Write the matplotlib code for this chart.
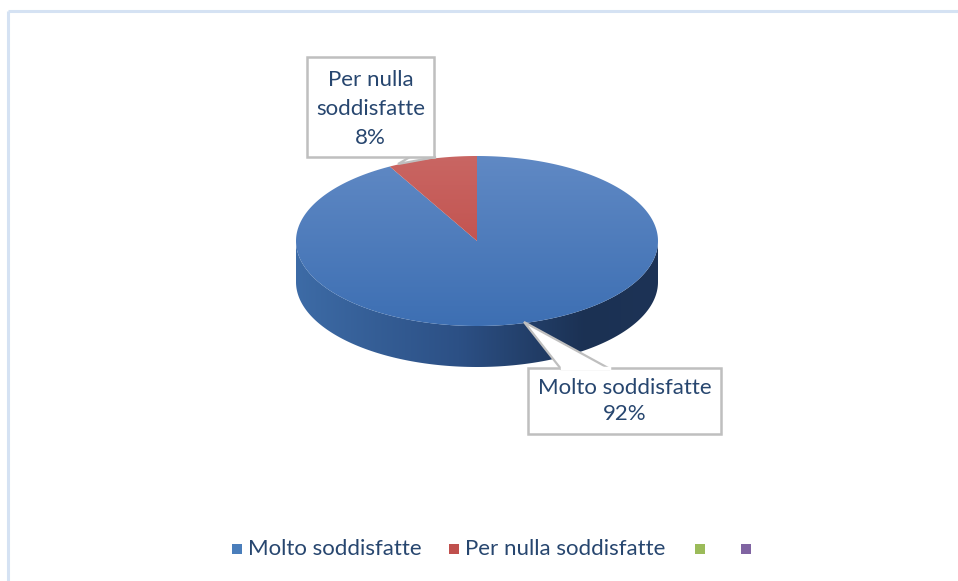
import numpy as np
import matplotlib.pyplot as plt
from matplotlib.patches import Polygon, Rectangle
from matplotlib.colors import LinearSegmentedColormap

categories = ["Molto soddisfatte", "Per nulla soddisfatte", "", ""]
values = [92, 8, 0, 0]
colors = ["#4a7ebb", "#c0504d", "#9bbb59", "#8064a2"]
top_light = ["#6089c4", "#c96663", "#aac56f", "#957bb3"]
top_dark = ["#3d6fb3", "#bd433f", "#9bbb59", "#8064a2"]
label_text = ["Molto soddisfatte\n92%", "Per nulla\nsoddisfatte\n8%"]

plt.rcParams['font.family'] = ['Lato', 'DejaVu Sans']
txt_col = "#27466f"

W, H = 958, 581
fig = plt.figure(figsize=(W / 100, H / 100), dpi=100)
ax = fig.add_axes([0, 0, 1, 1])
ax.set_xlim(0, W)
ax.set_ylim(H, 0)
ax.axis('off')

# frame (only top and left are visible in the crop)
ax.plot([8, W], [11, 11], color="#d5e2f3", lw=2.2, solid_capstyle='butt')
ax.plot([8, 8], [11, H], color="#d5e2f3", lw=2.2, solid_capstyle='butt')

cx, cy, rx, ry, depth = 477, 241, 181, 85, 41


def pt(theta, s=1.0, dy=0.0):
    return cx + s * rx * np.cos(theta), cy - s * ry * np.sin(theta) + dy


# side wall (front half), gradient left -> right
t = np.linspace(np.pi, 2 * np.pi, 200)
tx, ty = pt(t)
side = np.vstack([np.column_stack([tx, ty]),
                  np.column_stack([tx[::-1], ty[::-1] + depth])])
side_patch = Polygon(side, closed=True, fc="none", ec="none")
ax.add_patch(side_patch)
side_cmap = LinearSegmentedColormap.from_list(
    "side", [(0, "#3d6ba6"), (0.45, "#2c5085"), (0.8, "#1b3153"), (1, "#1d3356")])
grad = np.linspace(0, 1, 256).reshape(1, -1)
im = ax.imshow(grad, cmap=side_cmap, extent=[cx - rx, cx + rx, cy + ry + depth, cy - 5],
               aspect='auto', zorder=1)
im.set_clip_path(side_patch)

# top face slices, clockwise from 12 o'clock
total = sum(values)
start = np.pi / 2
for v, cl, cd in zip(values, top_light, top_dark):
    if v == 0:
        continue
    sweep = 2 * np.pi * v / total
    a = np.linspace(start, start - sweep, 300)
    ax_, ay_ = pt(a)
    poly = np.vstack([[cx, cy], np.column_stack([ax_, ay_])])
    patch = Polygon(poly, closed=True, fc="none", ec="none", zorder=2)
    ax.add_patch(patch)
    cmap = LinearSegmentedColormap.from_list("top", [cl, cd])
    g = np.linspace(0, 1, 256).reshape(-1, 1)
    im = ax.imshow(g, cmap=cmap, extent=[cx - rx, cx + rx, cy + ry, cy - ry],
                   aspect='auto', zorder=2)
    im.set_clip_path(patch)
    start -= sweep
ax.set_xlim(0, W)
ax.set_ylim(H, 0)

box_ec = "#bfbfbf"

# callout for "Per nulla soddisfatte"
ax.add_patch(Polygon([[410, 157], [398, 164], [436, 157]], closed=True,
                     fc="white", ec=box_ec, lw=1.6, zorder=3))
ax.add_patch(Rectangle((307, 57), 127, 100, fc="white", ec=box_ec, lw=1.8, zorder=4))
ax.text(370.5, 109, label_text[1], ha='center', va='center', fontsize=16,
        color=txt_col, linespacing=1.56, zorder=5)

# callout for "Molto soddisfatte"
ax.add_patch(Rectangle((528, 368), 193, 66, fc="white", ec=box_ec, lw=1.8, zorder=4))
ax.add_patch(Polygon([[561, 369], [524, 322], [610, 369]], closed=True,
                     fc="white", ec=box_ec, lw=1.6, zorder=4))
ax.plot([562, 609], [368, 368], color="white", lw=2.5, zorder=4)
ax.text(624.5, 401, label_text[0], ha='center', va='center', fontsize=16,
        color=txt_col, linespacing=1.4, zorder=5)

# legend
leg_x = [232, 449, 695, 741]
for x, c, name in zip(leg_x, colors, categories):
    ax.add_patch(Rectangle((x, 544), 10, 10, fc=c, ec="none"))
    if name:
        ax.text(x + 16, 549, name, ha='left', va='center', fontsize=16, color=txt_col)

fig.savefig("out.png", dpi=100)
